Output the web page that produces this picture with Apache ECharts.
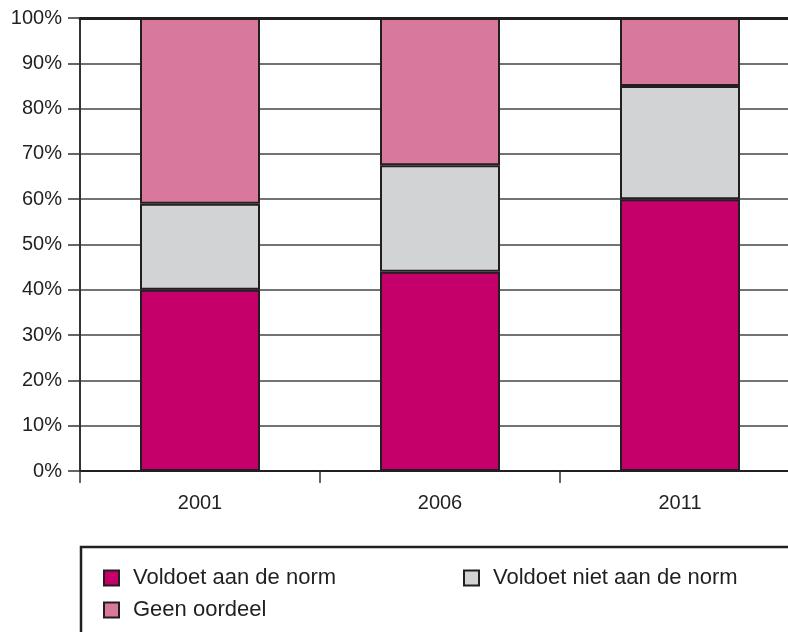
<!DOCTYPE html>
<html>
<head>
<meta charset="UTF-8">
<title>Norm</title>
<script src="https://cdn.jsdelivr.net/npm/echarts@6/dist/echarts.min.js"></script>
<style>
  html, body { margin: 0; padding: 0; background: #fff; }
  #chart { width: 788px; height: 632px; }
</style>
</head>
<body>
<div id="chart"></div>
<script>
var years = ['2001', '2006', '2011'];
var voldoet = [40, 44, 60];
var voldoetNiet = [19, 23.5, 25];
var geenOordeel = [41, 32.5, 15];

var seriesNames = ['Voldoet aan de norm', 'Voldoet niet aan de norm', 'Geen oordeel'];
var colors = ['#C6006A', '#D2D3D5', '#D8789C'];
var edge = '#231F20';
var font = 'Liberation Sans, Arial, sans-serif';

var chart = echarts.init(document.getElementById('chart'));

function bar(name, data, color) {
  return {
    name: name,
    type: 'bar',
    stack: 'total',
    barWidth: '50%',
    data: data,
    itemStyle: { color: color, borderColor: edge, borderWidth: 2 },
    emphasis: { disabled: true }
  };
}

function legendAt(name, left, top) {
  return {
    data: [name],
    left: left,
    top: top,
    icon: 'rect',
    itemWidth: 15,
    itemHeight: 15,
    itemGap: 0,
    padding: 0,
    selectedMode: false,
    itemStyle: { borderColor: edge, borderWidth: 2 },
    textStyle: { fontFamily: font, fontSize: 22, color: '#231F20', padding: [0, 0, 0, 9] }
  };
}

var option = {
  animation: false,
  color: colors,
  grid: { left: 80, width: 720, top: 18, bottom: 161, outerBoundsMode: 'none', containLabel: false },
  legend: [
    legendAt(seriesNames[0], 103, 567),
    legendAt(seriesNames[1], 463, 567),
    legendAt(seriesNames[2], 103, 599)
  ],
  xAxis: [{
    type: 'category',
    data: years,
    axisLine: { lineStyle: { color: edge, width: 2 } },
    axisTick: { show: true, length: 12, lineStyle: { color: '#333', width: 1.5 } },
    axisLabel: { fontFamily: font, fontSize: 20, color: '#231F20', margin: 22 }
  }, {
    type: 'category',
    data: years,
    position: 'top',
    axisLine: { lineStyle: { color: edge, width: 3 } },
    axisTick: { show: false },
    axisLabel: { show: false }
  }],
  yAxis: {
    type: 'value',
    min: 0,
    max: 100,
    interval: 10,
    axisLine: { show: true, lineStyle: { color: '#333', width: 2 } },
    axisTick: { show: true, length: 12, lineStyle: { color: '#333', width: 1.5 } },
    axisLabel: { formatter: '{value}%', fontFamily: font, fontSize: 20, color: '#231F20', margin: 18 },
    splitLine: { lineStyle: { color: '#444', width: 1.5 } }
  },
  series: [
    bar(seriesNames[0], voldoet, colors[0]),
    bar(seriesNames[1], voldoetNiet, colors[1]),
    bar(seriesNames[2], geenOordeel, colors[2])
  ],
  graphic: [{
    type: 'rect',
    shape: { x: 81, y: 547, width: 800, height: 200 },
    style: { fill: 'none', stroke: edge, lineWidth: 2.5 },
    silent: true
  }]
};

chart.setOption(option);
</script>
</body>
</html>
